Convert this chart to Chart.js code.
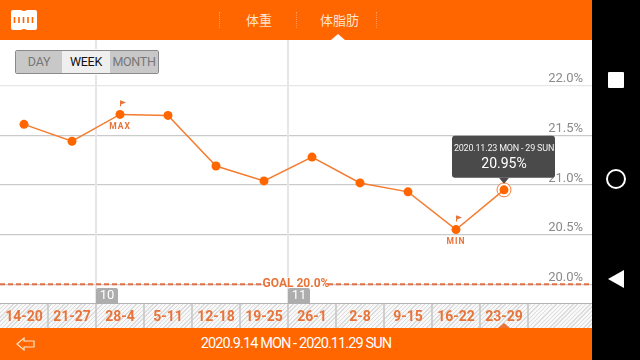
<!DOCTYPE html>
<html lang="ja">
<head>
<meta charset="UTF-8">
<title>体脂肪</title>
<script src="https://cdn.jsdelivr.net/npm/chart.js"></script>
<style>
  html, body { margin: 0; padding: 0; background: #fff; overflow: hidden; }
  body { width: 640px; height: 360px; position: relative; font-family: Roboto, sans-serif; }
  .abs { position: absolute; }
  #header { left: 0; top: 0; width: 592px; height: 40px; background: #ff6600; }
  #footer { left: 0; top: 328px; width: 592px; height: 32px; background: #ff6600; color: #fff; font-size: 14.5px; letter-spacing: -0.9px; line-height: 32px; text-align: center; }
  #nav { left: 592px; top: 0; width: 48px; height: 360px; background: #000; }
  .tab { top: 11px; color: #ffe3cf; font: 13px "Noto Sans CJK JP", sans-serif; line-height: 17px; }
  .sep { top: 12px; width: 0; height: 16px; border-left: 1px dotted #ff9a5c; }
  #strip { left: 0; top: 304px; width: 592px; height: 24px;
    background: repeating-linear-gradient(135deg, #dcdcdc 0 1px, #f8f8f8 1px 3px); }
  #chartBox { left: 0; top: 40px; width: 592px; height: 288px; }
  #btns { left: 15px; top: 50px; width: 142px; height: 22px; border: 1px solid #8a8a8a; border-radius: 2px; padding: 0; display: flex; background: #fff; box-shadow: 0 0 0 1px #fff; }
  #btns div { text-align: center; line-height: 22px; font-size: 12.5px; letter-spacing: -0.3px; color: #777; background: #c8c8c8; }
  #btns .on { color: #111; background: #efefef; }
</style>
</head>
<body>
<div id="strip" class="abs"></div>
<div id="chartBox" class="abs"><canvas id="fatChart" width="592" height="288"></canvas></div>

<div id="header" class="abs">
  <svg class="abs" style="left:11px;top:10px" width="26" height="20">
    <path d="M2 0H10Q13 2 16 0H24Q26 0 26 2V18Q26 20 24 20H16Q13 18 10 20H2Q0 20 0 18V2Q0 0 2 0Z" fill="#fff"/>
    <path d="M3.5 7V13M8 7V13M12.5 7V13M17 7V13M21.5 7V13" stroke="#ff6600" stroke-width="1.6"/>
  </svg>
  <div class="sep abs" style="left:219px"></div>
  <div class="tab abs" style="left:246px">体重</div>
  <div class="sep abs" style="left:296px"></div>
  <div class="tab abs" style="left:320px">体脂肪</div>
  <div class="sep abs" style="left:376px"></div>
  <svg class="abs" style="left:331px;top:34px" width="14" height="6"><path d="M0 6L7 0L14 6Z" fill="#fff"/></svg>
</div>

<div id="btns" class="abs">
  <div style="width:46px">DAY</div>
  <div class="on" style="width:48px">WEEK</div>
  <div style="width:48px">MONTH</div>
</div>

<div id="footer" class="abs">2020.9.14 MON - 2020.11.29 SUN</div>
<svg class="abs" style="left:16px;top:336px" width="20" height="16">
  <path d="M1 8L8 2V5H18V11H8V14Z" fill="none" stroke="#ffe3cf" stroke-width="1.2"/>
</svg>
<svg class="abs" style="left:498px;top:323px" width="12" height="5"><path d="M0 5L6 0L12 5Z" fill="#e8743a"/></svg>

<div id="nav" class="abs">
  <svg width="48" height="360">
    <rect x="16" y="72" width="16" height="16" rx="1" fill="#fff"/>
    <circle cx="24" cy="179" r="9" fill="none" stroke="#fff" stroke-width="2"/>
    <path d="M32 270V288L16 279Z" fill="#fff"/>
  </svg>
</div>

<script>
const weeks = ['14-20','21-27','28-4','5-11','12-18','19-25','26-1','2-8','9-15','16-22','23-29'];
const fatValues = [21.61,21.44,21.71,21.70,21.19,21.04,21.28,21.02,20.93,20.55,20.95];
const yTicks = [20.0,20.5,21.0,21.5,22.0];
const goalValue = 20.0;
const monthMarks = [{ label: '10', before: 2 }, { label: '11', before: 6 }];
const tipTitle = '2020.11.23 MON - 29 SUN';
const tipValue = '20.95%';

const ORANGE = '#ff6600';
const LINE = '#f47c30';
const TEXT_ORANGE = '#e8743a';
const FONT = 'Roboto, sans-serif';
const X_MIN = -0.5, X_MAX = 11.8333;

function drawFlag(ctx, x, y) {
  ctx.strokeStyle = TEXT_ORANGE;
  ctx.lineWidth = 1;
  ctx.beginPath(); ctx.moveTo(x + 0.5, y); ctx.lineTo(x + 0.5, y + 6); ctx.stroke();
  ctx.fillStyle = TEXT_ORANGE;
  ctx.beginPath(); ctx.moveTo(x + 1, y); ctx.lineTo(x + 6, y + 2); ctx.lineTo(x + 1, y + 4); ctx.fill();
}

// month lines go under the datasets
const backdrop = {
  id: 'backdrop',
  beforeDatasetsDraw(chart) {
    const { ctx, scales: { x }, chartArea: a } = chart;
    ctx.save();
    ctx.strokeStyle = '#e6e6e6';
    ctx.lineWidth = 2;
    monthMarks.forEach(m => {
      const px = x.getPixelForValue(m.before - 0.5);
      ctx.beginPath(); ctx.moveTo(px, a.top); ctx.lineTo(px, a.bottom); ctx.stroke();
    });
    ctx.restore();
  }
};

const overlay = {
  id: 'overlay',
  afterDraw(chart) {
    const { ctx, scales: { x, y }, chartArea: a } = chart;
    ctx.save();

    // strip: top rule and cell dividers
    ctx.strokeStyle = '#b4b4b4';
    ctx.lineWidth = 1;
    ctx.beginPath(); ctx.moveTo(0, a.bottom - 0.5); ctx.lineTo(592, a.bottom - 0.5); ctx.stroke();
    ctx.strokeStyle = '#c4c4c4';
    ctx.lineWidth = 1.5;
    weeks.forEach((w, i) => {
      const px = x.getPixelForValue(i + 0.5);
      ctx.beginPath(); ctx.moveTo(px, a.bottom); ctx.lineTo(px, a.bottom + 24); ctx.stroke();
    });

    // month tags
    monthMarks.forEach(m => {
      const px = x.getPixelForValue(m.before - 0.5);
      ctx.fillStyle = '#adadad';
      ctx.beginPath();
      ctx.roundRect(px, a.bottom - 16, 22, 16, [2, 2, 0, 0]);
      ctx.fill();
      ctx.fillStyle = '#fff';
      ctx.font = '13px ' + FONT;
      ctx.textAlign = 'center';
      ctx.textBaseline = 'middle';
      ctx.fillText(m.label, px + 11, a.bottom - 8);
    });

    // goal label
    const gy = y.getPixelForValue(goalValue);
    const gx = x.getPixelForValue(5.5);
    ctx.fillStyle = '#fff';
    ctx.fillRect(gx - 23, gy - 7, 62, 9);
    ctx.fillStyle = TEXT_ORANGE;
    ctx.font = 'bold 12px ' + FONT;
    ctx.textAlign = 'center';
    ctx.textBaseline = 'middle';
    ctx.fillText('GOAL 20.0%', gx + 8, gy);

    // MAX / MIN
    const maxI = fatValues.indexOf(Math.max(...fatValues));
    const minI = fatValues.indexOf(Math.min(...fatValues));
    const mx = x.getPixelForValue(maxI), my = y.getPixelForValue(fatValues[maxI]);
    const nx = x.getPixelForValue(minI), ny = y.getPixelForValue(fatValues[minI]);
    drawFlag(ctx, mx, my - 14);
    drawFlag(ctx, nx, ny - 14);
    ctx.fillStyle = TEXT_ORANGE;
    ctx.font = 'bold 8.5px ' + FONT;
    ctx.letterSpacing = '1px';
    ctx.textAlign = 'center';
    ctx.textBaseline = 'middle';
    ctx.fillText('MAX', mx, my + 12);
    ctx.fillText('MIN', nx, ny + 12);

    // selected week callout
    const last = fatValues.length - 1;
    const tx = x.getPixelForValue(last), ty = y.getPixelForValue(fatValues[last]);
    ctx.fillStyle = '#4a4a4a';
    ctx.beginPath();
    ctx.roundRect(tx - 52, ty - 54, 103, 42, 3);
    ctx.fill();
    ctx.beginPath();
    ctx.moveTo(tx - 5, ty - 12); ctx.lineTo(tx, ty - 6); ctx.lineTo(tx + 5, ty - 12);
    ctx.fill();
    ctx.fillStyle = '#f2f2f2';
    ctx.font = '9px ' + FONT;
    ctx.letterSpacing = '-0.2px';
    ctx.textAlign = 'center';
    ctx.textBaseline = 'middle';
    ctx.fillText(tipTitle, tx, ty - 41);
    ctx.fillStyle = '#fff';
    ctx.font = '14px ' + FONT;
    ctx.letterSpacing = '0px';
    ctx.fillText(tipValue, tx, ty - 25);
    ctx.restore();
  }
};

new Chart(document.getElementById('fatChart'), {
  type: 'line',
  data: {
    datasets: [
      {
        data: [{ x: X_MIN, y: goalValue }, { x: X_MAX, y: goalValue }],
        borderColor: '#e0704a', borderWidth: 2, borderDash: [5, 3], pointRadius: 0, order: 3
      },
      {
        data: [{ x: weeks.length - 1, y: fatValues[weeks.length - 1] }],
        showLine: false, pointRadius: 7, pointBorderWidth: 1,
        pointBackgroundColor: '#fff', pointBorderColor: LINE, order: 2
      },
      {
        data: fatValues.map((v, i) => ({ x: i, y: v })),
        borderColor: LINE, borderWidth: 1.5, tension: 0, order: 1,
        pointRadius: 4.5, pointBorderWidth: 0, pointBackgroundColor: ORANGE
      }
    ]
  },
  options: {
    responsive: false,
    animation: false,
    layout: { padding: 0, autoPadding: false },
    plugins: { legend: { display: false }, tooltip: { enabled: false } },
    scales: {
      x: {
        type: 'linear', min: X_MIN, max: X_MAX,
        grid: { display: false, drawTicks: false }, border: { display: false },
        afterBuildTicks: s => { s.ticks = weeks.map((w, i) => ({ value: i })); },
        afterFit: s => { s.height = 24; s.paddingLeft = 0; s.paddingRight = 0; },
        ticks: {
          autoSkip: false, maxRotation: 0, padding: 5,
          color: TEXT_ORANGE, font: { family: FONT, size: 14, weight: 'bold' },
          callback: v => weeks[v]
        }
      },
      y: {
        type: 'linear', position: 'right', min: 19.8, max: 22.46,
        border: { display: false },
        grid: { drawTicks: false, lineWidth: 1.2, color: c => c.tick.value === 22 ? '#e6e6e6' : '#cacaca' },
        afterBuildTicks: s => { s.ticks = yTicks.map(v => ({ value: v })); },
        afterFit: s => { s.width = 0; s.paddingTop = 0; s.paddingBottom = 0; },
        ticks: {
          mirror: true, align: 'end', padding: -9,
          color: '#8a8a8a', font: { family: FONT, size: 13 },
          callback: v => v.toFixed(1) + '%'
        }
      }
    }
  },
  plugins: [backdrop, overlay]
});
</script>
</body>
</html>
